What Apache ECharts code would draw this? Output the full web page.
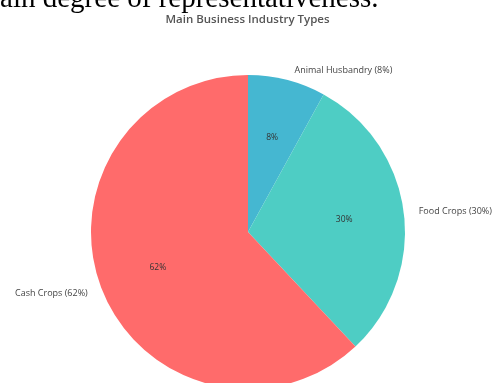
<!DOCTYPE html>
<html>
<head>
<meta charset="utf-8">
<script src="https://cdn.jsdelivr.net/npm/echarts@6/dist/echarts.min.js"></script>
<style>
  html, body { margin: 0; padding: 0; background: #fff; }
  #chart { width: 495px; height: 383px; }
</style>
</head>
<body>
<div id="chart"></div>
<script>
// data
var categories = ['Animal Husbandry', 'Food Crops', 'Cash Crops'];
var shares = [8, 30, 62];
var colors = ['#45b7d1', '#4ecdc4', '#ff6b6b'];

var pieData = categories.map(function (name, i) {
  return { name: name, value: shares[i], itemStyle: { color: colors[i] } };
});

var chart = echarts.init(document.getElementById('chart'));

var outFont = { fontFamily: 'Open Sans', fontSize: 9, color: '#444' };
var inFont = { fontFamily: 'Open Sans', fontSize: 8.5, color: '#333' };

chart.setOption({
  animation: false,
  backgroundColor: '#fff',
  graphic: [{
    type: 'text',
    left: -8,
    top: -15,
    style: {
      text: 'tain degree of representativeness.',
      font: '29px "Liberation Serif"',
      fill: '#000'
    }
  }],
  title: {
    text: 'Main Business Industry Types',
    left: 'center',
    top: 9,
    textStyle: { fontFamily: 'Open Sans', fontSize: 11.5, fontWeight: 600, color: '#555' }
  },
  series: [
    // slices + outside labels
    {
      type: 'pie',
      center: [248, 232],
      radius: 157,
      startAngle: 90,
      clockwise: true,
      avoidLabelOverlap: false,
      silent: true,
      data: pieData,
      label: Object.assign({
        position: 'outside',
        formatter: function (p) { return p.name + ' (' + p.value + '%)'; }
      }, outFont),
      labelLine: { show: false, length: 10, length2: 0 }
    },
    // percentage labels inside the slices
    {
      type: 'pie',
      center: [248, 232],
      radius: 188,
      startAngle: 90,
      clockwise: true,
      silent: true,
      data: categories.map(function (name, i) { return { name: name, value: shares[i] }; }),
      itemStyle: { color: 'transparent' },
      label: Object.assign({
        position: 'inside',
        formatter: '{c}%'
      }, inFont),
      labelLine: { show: false }
    }
  ]
});
</script>
</body>
</html>
